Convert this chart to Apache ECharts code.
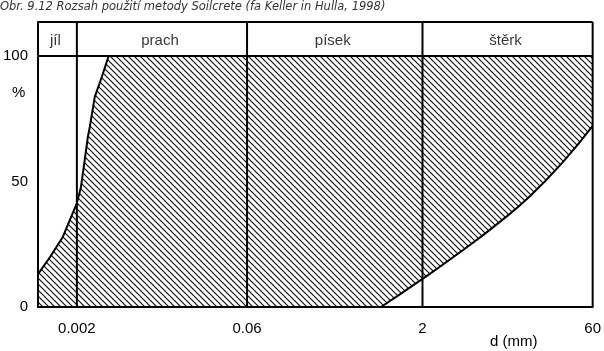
<!DOCTYPE html>
<html><head><meta charset="utf-8">
<script src="https://cdn.jsdelivr.net/npm/echarts@6/dist/echarts.min.js"></script>
<style>html,body{margin:0;padding:0;background:#fff}#c{width:604px;height:351px}</style>
</head><body><div id="c"></div>
<script>
// ---- data ----
const soilClasses = ['jíl', 'prach', 'písek', 'štěrk'];
const classBounds = [0.00092, 0.002, 0.06, 2, 60];   // mm
const xTickLabels = [0.002, 0.06, 2, 60];
const yTickLabels = [0, 50, 100];
// left (fine-side) limit curve: [d mm, %]
const fineLimitD   = [0.00092, 0.00117, 0.00151, 0.0020, 0.00217, 0.00234, 0.00249, 0.00259, 0.00286, 0.00329, 0.00378, 60];
const fineLimitPct = [13.1,    19.9,    27.9,    41.4,   47.8,    58.6,    67.7,    71.7,    83.7,    91.6,    100,     100];
// right (coarse-side) limit curve
const coarseLimitD   = [0.873, 2,    4.63, 8.93, 17.2, 33.8, 60];
const coarseLimitPct = [0,     11.2, 23.1, 33.1, 44.2, 58.2, 72.1];

const yMax = 113.5;

function hatch() {
  const s = 6, cv = document.createElement('canvas');
  cv.width = s; cv.height = s;
  const g = cv.getContext('2d');
  g.fillStyle = '#fff'; g.fillRect(0, 0, s, s);
  g.strokeStyle = '#111'; g.lineWidth = 1.2;
  for (const k of [-s, 0, s]) { g.beginPath(); g.moveTo(k - 1, -1); g.lineTo(k + s + 1, s + 1); g.stroke(); }
  return cv;
}

const chart = echarts.init(document.getElementById('c'), null, {renderer: 'canvas'});
const font = 'Liberation Sans';
const headerY = (100 + yMax) / 2;
const xMin = classBounds[0], xMax = classBounds[classBounds.length - 1];

const frameLine = (data) => ({
  type: 'line', data, symbol: 'none', clip: false, silent: true, z: 4,
  lineStyle: {color: '#000', width: 2}
});

chart.setOption({
  animation: false,
  grid: {left: 38, right: 8, top: 22, bottom: 44},
  xAxis: {
    type: 'log', min: xMin, max: xMax, z: 5,
    axisLine: {lineStyle: {color: '#000', width: 2}},
    axisTick: {show: false}, splitLine: {show: false}, minorTick: {show: false},
    axisLabel: {customValues: xTickLabels, color: '#000', fontFamily: font, fontSize: 15, margin: 14,
      formatter: v => String(+(+v).toPrecision(6))}
  },
  yAxis: {
    type: 'value', min: 0, max: yMax, interval: 50, z: 5,
    axisLine: {show: true, lineStyle: {color: '#000', width: 2}},
    axisTick: {show: false}, splitLine: {show: false},
    axisLabel: {customValues: yTickLabels, color: '#000', fontFamily: font, fontSize: 15, margin: 10}
  },
  graphic: [
    {type: 'text', left: 0, top: 1, style: {text: 'Obr. 9.12 Rozsah použití metody Soilcrete (fa Keller in Hulla, 1998)',
      font: 'italic 11.5px "DejaVu Sans"', fill: '#333'}},
    {type: 'text', left: 12, top: 85, style: {text: '%', font: '15px "Liberation Sans"', fill: '#000'}},
    {type: 'text', left: 490, top: 334, style: {text: 'd (mm)', font: '15px "Liberation Sans"', fill: '#000'}}
  ],
  series: [
    {
      type: 'line', data: fineLimitD.map((d, i) => [d, fineLimitPct[i]]), symbol: 'none',
      lineStyle: {color: '#000', width: 2}, areaStyle: {color: {image: hatch(), repeat: 'repeat'}, opacity: 1}, z: 2
    },
    {
      type: 'line', data: coarseLimitD.map((d, i) => [d, coarseLimitPct[i]]), symbol: 'none', smooth: 0.5,
      lineStyle: {color: '#000', width: 2}, areaStyle: {color: '#fff', opacity: 1}, z: 3
    },
    ...classBounds.slice(1).map(v => frameLine([[v, 0], [v, yMax]])),
    frameLine([[xMin, 100], [xMax, 100]]),
    frameLine([[xMin, yMax], [xMax, yMax]]),
    {
      type: 'scatter', symbolSize: 0, z: 6,
      data: soilClasses.map((n, i) => ({name: n, value: [Math.sqrt(classBounds[i] * classBounds[i + 1]), headerY]})),
      label: {show: true, position: 'inside', offset: [-2, 2], formatter: p => p.name, color: '#000', fontFamily: font, fontSize: 15}
    }
  ]
});
</script></body></html>
